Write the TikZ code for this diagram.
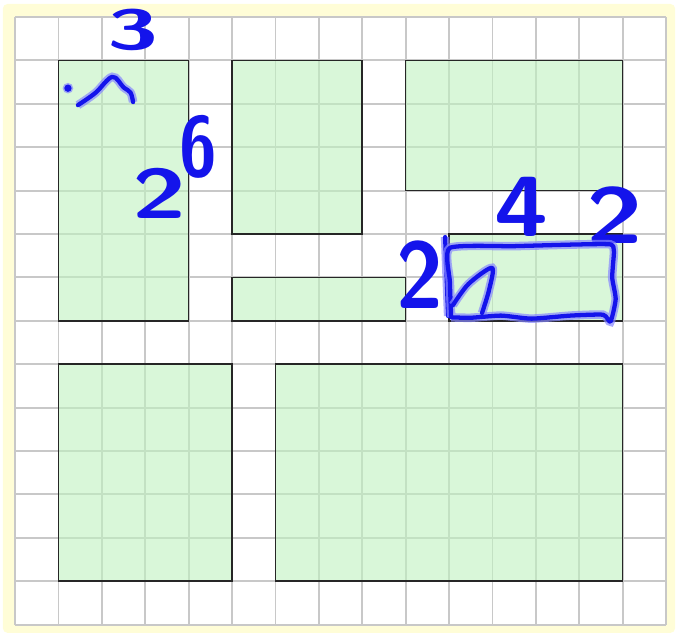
\documentclass[tikz,border=0pt]{standalone}
\usepackage{xcolor}
\usepackage{tikz}
\usetikzlibrary{positioning}

\definecolor{paper}{RGB}{255,253,215}
\definecolor{gridgray}{RGB}{200,200,200}
\definecolor{blockgreen}{RGB}{192,243,193}
\definecolor{ink}{RGB}{20,20,235}
\definecolor{inkglow}{RGB}{135,135,255}

\tikzset{
    block/.style={draw=black!85, line width=1.1pt, fill=blockgreen, fill opacity=0.6,
                  anchor=north west, inner sep=0pt, outer sep=0pt},
    pen/.style={draw=ink, line width=2.8pt, line cap=round, line join=round,
                preaction={draw=inkglow, line width=5.6pt, opacity=0.7}},
    digit/.style={text=ink, inner sep=0pt}
}

\begin{document}
\begin{tikzpicture}
                \useasboundingbox (-0.346,0.392) rectangle (15.253,-14.217);
                \fill[paper, rounded corners=3pt] (-0.28,0.30) rectangle (15.21,-14.19);
                \fill[white] (0,0) rectangle (15,-14);
                \draw[gridgray, line width=1.2pt] (0,0) grid (15,-14);

                \node [block, minimum width=3cm, minimum height=6cm] (r1) at (1,-1) {};
                \node [block, minimum width=3cm, minimum height=4cm] (r2) at (5,-1) {};
                \node [block, minimum width=5cm, minimum height=3cm] (r3) at (9,-1) {};
                \node [block, minimum width=4cm, minimum height=1cm,
                        below = 1cm of r2.south west, anchor=north west]
                                        (r4) {};
                \node [block, minimum width=4cm, minimum height=2cm] (r5) at (10,-5) {};
                \node [block, minimum width=4cm, minimum height=5cm,
                        below = 1cm of r1.south west, anchor=north west]
                                        (r6) {};
                \node [block, minimum width=8cm, minimum height=5cm,
                        right = 1cm of r6.north east, anchor=north west]
                                        (r7) {};

                \node [digit, font=\sffamily\bfseries\fontsize{37}{37}\selectfont] (n3) at (2.72,-0.3) {\scalebox{1.65}[1]{3}};
                \node [digit, font=\sffamily\bfseries\fontsize{56}{56}\selectfont] (n6) at (4.22,-3.0) {\scalebox{0.8}[1]{6}};
                \node [digit, font=\sffamily\bfseries\fontsize{46}{46}\selectfont] (n2a) at (3.34,-4.06) {\scalebox{1.4}[1]{2}};
                \node [digit, font=\sffamily\bfseries\fontsize{56}{56}\selectfont] (n4) at (11.68,-4.38) {\scalebox{1.15}[1]{4}};
                \node [digit, font=\sffamily\bfseries\fontsize{52}{52}\selectfont] (n2b) at (13.82,-4.56) {\scalebox{1.3}[1]{2}};
                \node [digit, font=\sffamily\bfseries\fontsize{62}{62}\selectfont] (n2c) at (9.33,-5.94) {\scalebox{0.9}[1]{2}};

                \fill[ink, preaction={fill=inkglow, opacity=0.7, draw=inkglow, line width=2pt}]
                        (1.22,-1.64) circle (2.4pt);
                \draw[pen] plot[smooth, tension=0.6] coordinates
                        {(1.45,-2.03) (1.85,-1.75) (2.24,-1.38) (2.5,-1.62) (2.66,-1.74) (2.72,-1.96)};
                \draw[pen] (9.91,-5.07) -- (9.98,-6.89);
                \draw[pen] plot[smooth, tension=0.35] coordinates
                        {(10.05,-6.92) (10.02,-6.1) (10.02,-5.32) (11.5,-5.28) (13.0,-5.24)
                         (13.72,-5.24) (13.8,-5.4) (13.76,-6.0) (13.84,-6.5) (13.72,-7.02)
                         (13.55,-6.86) (12.8,-6.88) (11.9,-6.95) (11.2,-6.88) (10.5,-6.93) (10.05,-6.92)};
                \draw[pen] plot[smooth, tension=0.5] coordinates
                        {(10.09,-6.64) (10.45,-6.15) (10.99,-5.78) (10.92,-6.3) (10.76,-6.82)};
\end{tikzpicture}
\end{document}
